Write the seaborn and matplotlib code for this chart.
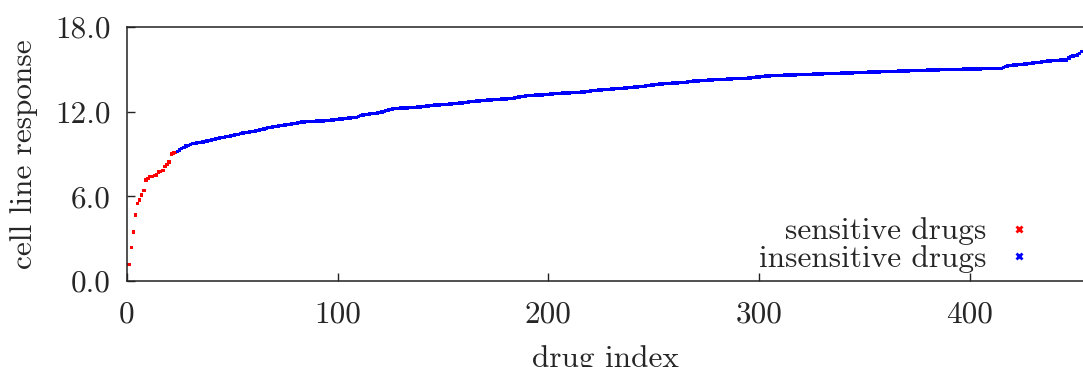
import numpy as np
import pandas as pd
import matplotlib
matplotlib.use("Agg")
import matplotlib.pyplot as plt
from matplotlib.lines import Line2D
import seaborn as sns

# Sorted cell line response per drug (ascending)
sensitive_values = [
    1.18, 2.39, 3.47, 4.68, 5.51, 5.74, 6.10, 6.43, 7.16, 7.28,
    7.39, 7.39, 7.49, 7.51, 7.73, 7.77, 7.85, 8.10, 8.27, 8.43,
    9.00, 9.07, 9.09,
]
insensitive_values = [
    9.16, 9.28, 9.40, 9.48, 9.57, 9.62, 9.68, 9.74, 9.76, 9.78,
    9.80, 9.83, 9.86, 9.90, 9.93, 9.96, 10.00, 10.03, 10.06, 10.09,
    10.13, 10.16, 10.19, 10.22, 10.25, 10.28, 10.31, 10.34, 10.37, 10.40,
    10.44, 10.48, 10.51, 10.54, 10.56, 10.58, 10.61, 10.64, 10.66, 10.70,
    10.74, 10.78, 10.82, 10.86, 10.89, 10.92, 10.94, 10.96, 10.98, 11.01,
    11.04, 11.06, 11.09, 11.11, 11.14, 11.16, 11.18, 11.20, 11.23, 11.26,
    11.28, 11.29, 11.30, 11.31, 11.32, 11.32, 11.33, 11.34, 11.35, 11.35,
    11.36, 11.37, 11.38, 11.40, 11.41, 11.43, 11.45, 11.47, 11.49, 11.51,
    11.53, 11.55, 11.56, 11.57, 11.59, 11.60, 11.66, 11.71, 11.76, 11.78,
    11.81, 11.83, 11.85, 11.87, 11.89, 11.91, 11.93, 11.98, 12.03, 12.08,
    12.12, 12.16, 12.19, 12.21, 12.23, 12.24, 12.25, 12.25, 12.26, 12.27,
    12.28, 12.29, 12.30, 12.31, 12.32, 12.33, 12.35, 12.37, 12.39, 12.41,
    12.43, 12.45, 12.46, 12.47, 12.48, 12.49, 12.50, 12.51, 12.52, 12.54,
    12.55, 12.57, 12.58, 12.59, 12.61, 12.62, 12.64, 12.66, 12.68, 12.70,
    12.72, 12.74, 12.76, 12.77, 12.78, 12.79, 12.80, 12.82, 12.83, 12.84,
    12.85, 12.86, 12.87, 12.88, 12.89, 12.90, 12.91, 12.93, 12.94, 12.95,
    12.97, 13.00, 13.03, 13.06, 13.09, 13.12, 13.13, 13.14, 13.15, 13.16,
    13.17, 13.18, 13.18, 13.19, 13.20, 13.22, 13.23, 13.24, 13.25, 13.27,
    13.28, 13.29, 13.30, 13.31, 13.32, 13.33, 13.33, 13.34, 13.35, 13.35,
    13.36, 13.37, 13.38, 13.40, 13.42, 13.44, 13.46, 13.48, 13.50, 13.52,
    13.53, 13.54, 13.55, 13.56, 13.58, 13.59, 13.60, 13.62, 13.63, 13.64,
    13.65, 13.66, 13.67, 13.68, 13.70, 13.71, 13.72, 13.74, 13.75, 13.77,
    13.78, 13.80, 13.82, 13.84, 13.86, 13.88, 13.90, 13.92, 13.94, 13.96,
    13.97, 13.98, 13.99, 14.00, 14.01, 14.02, 14.03, 14.04, 14.05, 14.06,
    14.07, 14.08, 14.10, 14.12, 14.14, 14.16, 14.17, 14.18, 14.19, 14.20,
    14.21, 14.22, 14.23, 14.24, 14.25, 14.26, 14.27, 14.28, 14.29, 14.29,
    14.30, 14.31, 14.31, 14.32, 14.33, 14.33, 14.34, 14.35, 14.35, 14.36,
    14.37, 14.38, 14.39, 14.41, 14.43, 14.45, 14.47, 14.49, 14.51, 14.53,
    14.53, 14.54, 14.55, 14.56, 14.56, 14.57, 14.58, 14.58, 14.59, 14.59,
    14.60, 14.60, 14.61, 14.61, 14.62, 14.62, 14.63, 14.63, 14.64, 14.64,
    14.65, 14.65, 14.66, 14.67, 14.67, 14.68, 14.68, 14.69, 14.69, 14.70,
    14.70, 14.71, 14.71, 14.72, 14.72, 14.73, 14.73, 14.74, 14.74, 14.75,
    14.75, 14.76, 14.77, 14.77, 14.78, 14.78, 14.79, 14.79, 14.80, 14.80,
    14.81, 14.81, 14.82, 14.82, 14.83, 14.83, 14.84, 14.84, 14.85, 14.85,
    14.86, 14.86, 14.87, 14.87, 14.88, 14.88, 14.89, 14.89, 14.90, 14.90,
    14.91, 14.91, 14.92, 14.92, 14.93, 14.93, 14.94, 14.94, 14.95, 14.95,
    14.96, 14.96, 14.97, 14.97, 14.97, 14.98, 14.98, 14.98, 14.99, 14.99,
    15.00, 15.00, 15.00, 15.01, 15.01, 15.01, 15.02, 15.02, 15.02, 15.03,
    15.03, 15.03, 15.04, 15.04, 15.04, 15.05, 15.05, 15.05, 15.06, 15.06,
    15.07, 15.07, 15.15, 15.22, 15.24, 15.26, 15.28, 15.30, 15.32, 15.34,
    15.35, 15.36, 15.37, 15.39, 15.41, 15.43, 15.45, 15.47, 15.49, 15.50,
    15.52, 15.54, 15.56, 15.58, 15.60, 15.61, 15.62, 15.63, 15.64, 15.65,
    15.65, 15.66, 15.66, 15.80, 15.90, 15.95, 15.99, 16.02, 16.12, 16.25,
]
group_labels = ["sensitive drugs", "insensitive drugs"]
group_colors = ["#ff0000", "#0000ff"]
x_ticks = [0, 100, 200, 300, 400]
y_ticks = [0.0, 6.0, 12.0, 18.0]
y_tick_labels = ["0.0", "6.0", "12.0", "18.0"]

values = sensitive_values + insensitive_values
df = pd.DataFrame({
    "drug index": np.arange(1, len(values) + 1),
    "cell line response": values,
    "group": [group_labels[0]] * len(sensitive_values)
             + [group_labels[1]] * len(insensitive_values),
})

sns.set_style("ticks")
plt.rcParams["font.family"] = ["cmr10", "DejaVu Serif"]
plt.rcParams["axes.formatter.use_mathtext"] = True
plt.rcParams["mathtext.fontset"] = "cm"

fig = plt.figure(figsize=(10.83, 3.67), dpi=100)
ax = fig.add_axes([127 / 1083, 1 - 281 / 367, 1 - 127 / 1083, (281 - 27) / 367])

sns.scatterplot(
    data=df, x="drug index", y="cell line response", hue="group",
    palette=dict(zip(group_labels, group_colors)), marker="s", s=6,
    linewidth=0, legend=False, ax=ax,
)

ax.set_xlim(0, 453.7)
ax.set_ylim(0, 18)
ax.set_xticks(x_ticks)
ax.set_xticklabels([str(t) for t in x_ticks])
ax.set_yticks(y_ticks)
ax.set_yticklabels(y_tick_labels)

fs = 22.5
ax.tick_params(axis="both", direction="in", length=6, width=1.0,
               labelsize=fs, pad=12, color="#222222")
ax.tick_params(axis="x", pad=14)
ax.tick_params(top=False, right=False)
for side in ["left", "bottom", "top"]:
    ax.spines[side].set_linewidth(1.1)
    ax.spines[side].set_color("#222222")
ax.spines["right"].set_visible(False)

ax.set_xlabel("drug index", fontsize=fs, labelpad=12)
ax.set_ylabel("cell line response", fontsize=fs, labelpad=12)

handles = [
    Line2D([], [], linestyle="none", marker="x", color=c, markersize=5,
           markeredgewidth=2)
    for c in group_colors
]
ax.legend(handles, group_labels, loc="lower right", markerfirst=False,
          frameon=False, fontsize=fs, handlelength=0.7, handletextpad=0.7,
          labelspacing=0.0, borderpad=0, borderaxespad=0,
          bbox_to_anchor=((1030 - 127) / 956, 0.03))

fig.savefig("out.png", dpi=100)
